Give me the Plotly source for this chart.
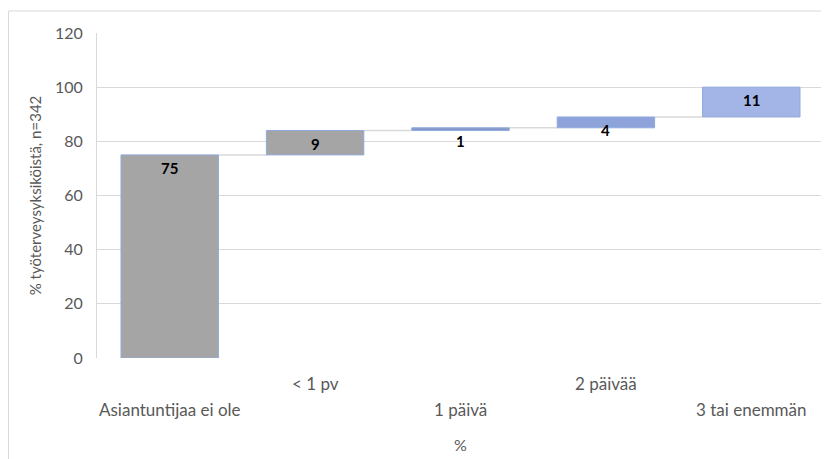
import plotly.graph_objects as go

categories = ["Asiantuntijaa ei ole", "< 1 pv", "1 päivä", "2 päivää", "3 tai enemmän"]
values = [75, 9, 1, 4, 11]
bar_colors = ["#A5A5A5", "#A5A5A5", "#8799CC", "#8EA3DA", "#A3B4E6"]
y_ticks = [0, 20, 40, 60, 80, 100, 120]

bases = []
acc = 0
for v in values:
    bases.append(acc)
    acc += v
tops = [b + v for b, v in zip(bases, values)]

FONT = "Lato"
GRAY = "#595959"

fig = go.Figure()
fig.add_trace(go.Bar(
    x=categories, y=values, base=bases,
    marker=dict(color=bar_colors, line=dict(color="#8FAADC", width=1)),
    width=0.67, hoverinfo="skip",
))

# connector lines between bars
for i in range(len(values) - 1):
    fig.add_shape(type="line", xref="x", yref="y",
                  x0=i + 0.335, x1=i + 1 - 0.335, y0=tops[i], y1=tops[i],
                  line=dict(color="#D9D9D9", width=1.5), layer="below")

# data labels
for i, (c, t, v) in enumerate(zip(categories, tops, values)):
    fig.add_annotation(x=i, y=t, text=f"<b>{v}</b>", showarrow=False,
                       yanchor="middle", yshift=-13,
                       font=dict(family=FONT, size=15, color="#000000"))

# staggered category labels
for i, c in enumerate(categories):
    fig.add_annotation(x=i, xref="x", y=0, yref="paper", text=c, showarrow=False,
                       yanchor="middle", yshift=-25 if i % 2 == 1 else -51,
                       font=dict(family=FONT, size=17, color=GRAY))

fig.add_annotation(x=0.5, xref="paper", y=0, yref="paper", text="%", showarrow=False,
                   yanchor="middle", yshift=-86,
                   font=dict(family=FONT, size=16, color=GRAY))

# outer chart border
fig.add_shape(type="rect", xref="paper", yref="paper",
              x0=-88.5 / 727, x1=1.03, y0=-0.35, y1=1.0677,
              line=dict(color="#D9D9D9", width=1), layer="below")

fig.update_layout(
    width=821, height=451,
    margin=dict(l=89, r=5, t=25, b=101, autoexpand=False),
    paper_bgcolor="white", plot_bgcolor="white",
    showlegend=False, bargap=0.33,
    font=dict(family=FONT, color=GRAY),
    xaxis=dict(range=[-0.5, 4.5], showticklabels=False, showgrid=False,
               zeroline=False, showline=False, ticks="",
               tickvals=list(range(len(categories)))),
    yaxis=dict(range=[0, 120], tickvals=y_ticks, showgrid=True, gridcolor="#D9D9D9",
               gridwidth=1, zeroline=False, showline=True, linecolor="#D9D9D9",
               ticks="", ticklabelstandoff=10, automargin=False,
               tickfont=dict(family=FONT, size=16, color=GRAY),
               title=dict(text="% työterveysyksiköistä, n=342", standoff=9,
                          font=dict(family=FONT, size=15, color=GRAY))),
)

fig.write_html("out.html")
